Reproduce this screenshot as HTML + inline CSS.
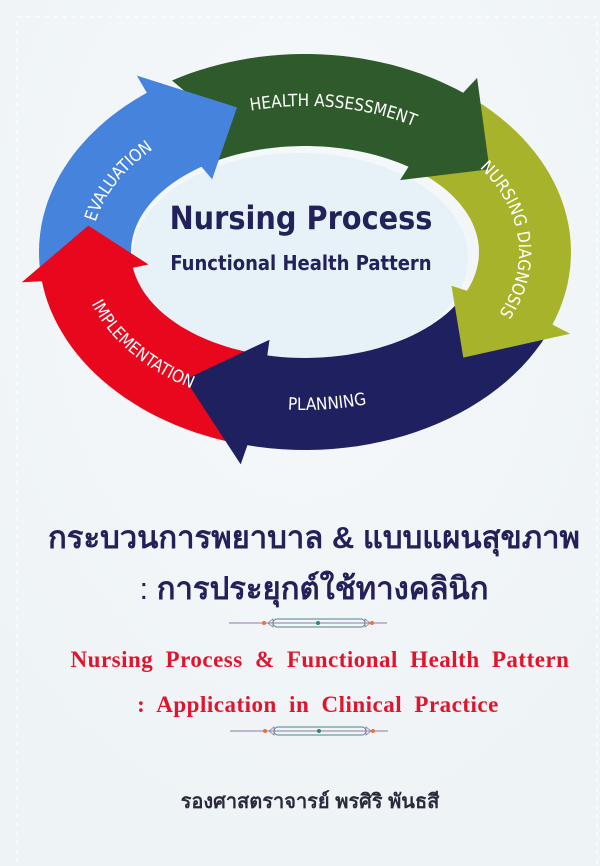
<!DOCTYPE html>
<html><head><meta charset="utf-8">
<style>
html,body{margin:0;padding:0;}
body{width:600px;height:866px;background:#f2f6f8;position:relative;overflow:hidden;font-family:"Liberation Sans","DejaVu Sans",sans-serif;}
svg{position:absolute;left:0;top:0;}
.t{position:absolute;left:0;width:600px;text-align:center;white-space:nowrap;}
</style></head><body>
<svg id="s" width="600" height="866" viewBox="0 0 600 866">
<defs>
<radialGradient id="bg" cx="50%" cy="30%" r="70%"><stop offset="0" stop-color="#f6f9fb"/><stop offset="1" stop-color="#eef3f6"/></radialGradient>
</defs>
<rect width="600" height="866" fill="url(#bg)"/>
<rect x="17" y="17" width="580" height="860" fill="none" stroke="#ffffff" stroke-width="1" stroke-dasharray="5,4"/>
<ellipse cx="300" cy="258" rx="168" ry="105" fill="#e6f1f8"/>
<g id="arrows"></g>
<g id="labels" font-family="DejaVu Sans Condensed, DejaVu Sans, sans-serif" font-size="17" fill="#fff"></g>
<text x="301" y="229" text-anchor="middle" font-family="DejaVu Sans Condensed, DejaVu Sans, sans-serif" font-weight="bold" font-size="32" fill="#23215a">Nursing Process</text>
<text x="301" y="270" text-anchor="middle" font-family="DejaVu Sans Condensed, DejaVu Sans, sans-serif" font-weight="bold" font-size="20" fill="#23215a">Functional Health Pattern</text>
<g id="orn1" transform="translate(0,623)">
<line x1="229" y1="0" x2="387" y2="0" stroke="#8a7aa8" stroke-width="1"/>
<rect x="273" y="-4" width="92" height="8" rx="4" fill="none" stroke="#4a8a80" stroke-width="1"/>
<path d="M268 0 L273 -4 L273 4 Z M370 0 L365 -4 L365 4 Z" fill="none" stroke="#8a7aa8" stroke-width="0.8"/>
<circle cx="264" cy="0" r="2" fill="#f07030"/><circle cx="372" cy="0" r="2" fill="#f07030"/>
<circle cx="318" cy="0" r="2" fill="#2a8a70"/>
</g>
<use href="#orn1" transform="translate(1,108)"/>
</svg>
<div class="t" style="top:512px;font-size:31px;font-weight:bold;color:#23215a;left:14px;">กระบวนการพยาบาล &amp; แบบแผนสุขภาพ</div>
<div class="t" style="top:563px;font-size:31px;font-weight:bold;color:#23215a;left:14px;"><span style="font-weight:normal">:</span> การประยุกต์ใช้ทางคลินิก</div>
<div class="t" style="top:647px;font-size:23px;font-weight:bold;color:#e0142c;font-family:'Liberation Serif',serif;left:20px;word-spacing:6px;letter-spacing:0.5px;">Nursing Process &amp; Functional Health Pattern</div>
<div class="t" style="top:692px;font-size:23px;font-weight:bold;color:#e0142c;font-family:'Liberation Serif',serif;left:18px;word-spacing:6px;letter-spacing:0.5px;">: Application in Clinical Practice</div>
<div class="t" style="top:785px;font-size:20px;font-weight:bold;color:#2a2a3a;left:10px;">รองศาสตราจารย์ พรศิริ พันธสี</div>
<script>
var cx=305,cy=252,rx=220,ry=152,NS="http://www.w3.org/2000/svg";
function P(t,k){t=t*Math.PI/180;return [(cx+(rx+k)*Math.cos(t)).toFixed(1),(cy+(ry+k)*Math.sin(t)).toFixed(1)];}
function arc(a0,a1,k){var s=[],n=30;for(var i=0;i<=n;i++){var p=P(a0+(a1-a0)*i/n,k);s.push(p.join(','));}return s;}
function body(a0,a1){var o=arc(a0,a1,46),inn=arc(a1,a0,-46);var m=P(a0+5,0);return 'M'+o.join(' L')+' L'+inn.join(' L')+' L'+m.join(',')+' Z';}
function head(a1,d){var b=a1,q1=P(b,66),q2=P(b,-62),tip=P(b+d,0),i1=P(b-0.5,46),i2=P(b-0.5,-46);
return 'M'+i1.join(',')+' L'+q1.join(',')+' L'+tip.join(',')+' L'+q2.join(',')+' L'+i2.join(',')+' Z';}
var A=[
 {a0:-120,a1:-53,c:'#2f5a2c',d:20},
 {a0:-53,a1:22,c:'#a7b32a',d:22},
 {a0:22,a1:103,c:'#1f2060',d:20},
 {a0:103,a1:172,c:'#e8071c',d:18},
 {a0:172,a1:234,c:'#4583dc',d:18}
];
var g=document.getElementById('arrows');
A.forEach(function(a){var p=document.createElementNS(NS,'path');p.setAttribute('d',body(a.a0,a.a1));p.setAttribute('fill',a.c);g.appendChild(p);});
A.forEach(function(a){var p=document.createElementNS(NS,'path');p.setAttribute('d',head(a.a1,a.d));p.setAttribute('fill',a.c);g.appendChild(p);});
var L=[
 {t:'HEALTH ASSESSMENT',a0:-118,a1:-45,k:-6},
 {t:'NURSING DIAGNOSIS',a0:-40,a1:30,k:-6},
 {t:'PLANNING',a0:110,a1:58,k:6},
 {t:'IMPLEMENTATION',a0:180,a1:106,k:6},
 {t:'EVALUATION',a0:172,a1:240,k:-6}
];
var lg=document.getElementById('labels'),defs=document.querySelector('defs');
L.forEach(function(l,i){var p=document.createElementNS(NS,'path');p.setAttribute('id','lp'+i);p.setAttribute('d','M'+arc(l.a0,l.a1,l.k).join(' L'));defs.appendChild(p);
var tx=document.createElementNS(NS,'text');var tp=document.createElementNS(NS,'textPath');tp.setAttribute('href','#lp'+i);tp.setAttribute('startOffset','50%');tp.setAttribute('text-anchor','middle');tp.textContent=l.t;tx.appendChild(tp);lg.appendChild(tx);});
</script>
</body></html>
